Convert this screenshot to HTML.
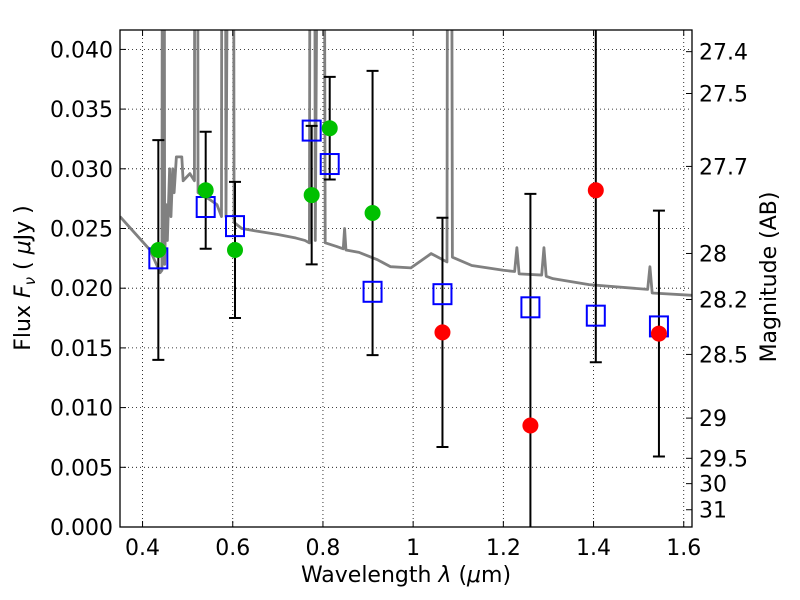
<!DOCTYPE html>
<html><head><meta charset="utf-8"><style>
html,body{margin:0;padding:0;background:#fff;overflow:hidden;width:800px;height:600px}
svg{display:block}
svg text{font-family:"DejaVu Sans","Liberation Sans",sans-serif}
</style></head><body>
<svg id="chart" width="800" height="600" viewBox="0 0 800 600" xmlns="http://www.w3.org/2000/svg">
<rect width="800" height="600" fill="#fff"/>
<defs><clipPath id="clip"><rect x="120" y="30" width="572" height="497"/></clipPath></defs>
<g id="grid"></g>
<g id="plot" clip-path="url(#clip)"></g>
<g id="axes"></g>
<text x="406" y="582" font-size="22" text-anchor="middle">Wavelength  <tspan font-style="italic">λ</tspan> (<tspan font-style="italic">μ</tspan>m)</text>
<text transform="translate(30,278) rotate(-90)" font-size="22" text-anchor="middle">Flux  <tspan font-style="italic">F</tspan><tspan font-style="italic" font-size="15" dy="5">ν</tspan><tspan dy="-5">  ( </tspan><tspan font-style="italic">μ</tspan>Jy )</text>
<text transform="translate(776,277) rotate(-90)" font-size="22" text-anchor="middle">Magnitude (AB)</text>
</svg>
<script>
const specWl=[0.35,0.4165,0.439,0.443,0.445,0.447,0.449,0.452,0.455,0.46,0.463,0.467,0.47,0.475,0.487,0.49,0.505,0.515,0.517,0.521,0.523,0.55,0.565,0.575,0.577,0.582,0.585,0.595,0.60,0.603,0.62,0.65,0.70,0.74,0.76,0.77,0.773,0.78,0.783,0.795,0.80,0.805,0.83,0.845,0.848,0.851,0.88,0.92,0.95,0.995,1.04,1.075,1.078,1.083,1.087,1.13,1.2,1.225,1.23,1.235,1.285,1.29,1.295,1.31,1.39,1.52,1.525,1.53,1.62];
const specFlux=[0.026,0.0232,0.0213,0.0215,0.1,0.1,0.022,0.027,0.024,0.030,0.026,0.030,0.028,0.031,0.031,0.029,0.0296,0.029,0.1,0.1,0.028,0.0274,0.027,0.026,0.1,0.1,0.026,0.1,0.1,0.0255,0.025,0.0248,0.0245,0.0242,0.024,0.0238,0.1,0.1,0.024,0.1,0.1,0.0238,0.0235,0.0233,0.025,0.0232,0.023,0.0224,0.0218,0.0217,0.0229,0.0222,0.1,0.1,0.0226,0.0219,0.0215,0.0214,0.0234,0.0212,0.0211,0.0234,0.021,0.0208,0.0203,0.0199,0.0218,0.0196,0.0194];
const ptWl=[0.435,0.54,0.605,0.775,0.815,0.91,1.065,1.26,1.405,1.545];
const ptFlux=[0.0232,0.0282,0.0232,0.0278,0.0334,0.0263,0.0163,0.0085,0.0282,0.0162];
const ptErr=[0.0092,0.0049,0.0057,0.0058,0.0043,0.0119,0.0096,0.0194,0.0144,0.0103];
const ptColor=["#00c000","#00c000","#00c000","#00c000","#00c000","#00c000","#ff0000","#ff0000","#ff0000","#ff0000"];
const modelFlux=[0.0225,0.0268,0.0252,0.0332,0.0304,0.0197,0.0195,0.0184,0.0177,0.0168];
const xTicks=[0.4,0.6,0.8,1.0,1.2,1.4,1.6];
const xTickLabels=["0.4","0.6","0.8","1","1.2","1.4","1.6"];
const yTicks=[0,0.005,0.01,0.015,0.02,0.025,0.03,0.035,0.04];
const yTickLabels=["0.000","0.005","0.010","0.015","0.020","0.025","0.030","0.035","0.040"];
const magTicks=[27.4,27.5,27.7,28,28.2,28.5,29,29.5,30,31];

const X0=120,X1=692,Y0=527,Y1=30,XMIN=0.35,XMAX=1.6183,YMIN=0,YMAX=0.041625;
const sx=v=>X0+(v-XMIN)/(XMAX-XMIN)*(X1-X0);
const sy=v=>Y0-(v-YMIN)/(YMAX-YMIN)*(Y0-Y1);
const NS="http://www.w3.org/2000/svg";
function mk(tag,attrs,parent){const e=document.createElementNS(NS,tag);for(const k in attrs)e.setAttribute(k,attrs[k]);parent.appendChild(e);return e;}
const grid=document.getElementById('grid'),plot=document.getElementById('plot'),axes=document.getElementById('axes');

xTicks.forEach((t,i)=>{
  const x=sx(t);
  const g=mk('line',{x1:x,x2:x,y1:Y1,y2:Y0,stroke:'#000','stroke-width':0.8,'stroke-dasharray':'1,3'},grid);
  
  
  [[Y0,Y0-6],[Y1,Y1+6]].forEach(p=>{const tk=mk('line',{x1:x,x2:x,y1:p[0],y2:p[1],stroke:'#000','stroke-width':1},axes);
    
    });
  const tx=mk('text',{x:x,y:Y0+28,'font-size':22,'text-anchor':'middle'},axes);tx.textContent=xTickLabels[i];
  
  
});
yTicks.forEach((t,i)=>{
  const y=sy(t);
  const g=mk('line',{x1:X0,x2:X1,y1:y,y2:y,stroke:'#000','stroke-width':0.8,'stroke-dasharray':'1,3'},grid);
  
  
  const tk=mk('line',{x1:X0,x2:X0+6,y1:y,y2:y,stroke:'#000','stroke-width':1},axes);
  
  
  const tx=mk('text',{x:X0-7,y:y+8,'font-size':22,'text-anchor':'end'},axes);tx.textContent=yTickLabels[i];
  
  
});
magTicks.forEach(m=>{
  const y=sy(Math.pow(10,(23.9-m)/2.5));
  const tk=mk('line',{x1:X1-6,x2:X1,y1:y,y2:y,stroke:'#000','stroke-width':1},axes);
  
  
  const tx=mk('text',{x:X1+7,y:y+8,'font-size':22},axes);tx.textContent=String(m);
  
  
});
const fr=mk('rect',{x:X0,y:Y1,width:X1-X0,height:Y0-Y1,fill:'none',stroke:'#000','stroke-width':1.3},axes);



const sp=mk('polyline',{points:specWl.map((w,i)=>sx(w)+','+sy(specFlux[i])).join(' '),fill:'none',stroke:'#808080','stroke-width':2.8,'stroke-linejoin':'round'},plot);



ptWl.forEach((w,i)=>{
  const x=sx(w),yt=sy(ptFlux[i]+ptErr[i]),yb=sy(ptFlux[i]-ptErr[i]);
  const e=mk('path',{d:`M${x},${yt}V${yb}M${x-6},${yt}H${x+6}M${x-6},${yb}H${x+6}`,stroke:'#000','stroke-width':2,fill:'none'},plot);
  
  
});
ptWl.forEach((w,i)=>{
  const x=sx(w),y=sy(modelFlux[i]);
  const r=mk('rect',{x:x-9,y:y-10,width:18,height:20,fill:'none',stroke:'#0000ff','stroke-width':2},plot);
  
  
});
ptWl.forEach((w,i)=>{
  const c=mk('circle',{cx:sx(w),cy:sy(ptFlux[i]),r:8,fill:ptColor[i]},plot);
  
  
});
</script>
</body></html>
